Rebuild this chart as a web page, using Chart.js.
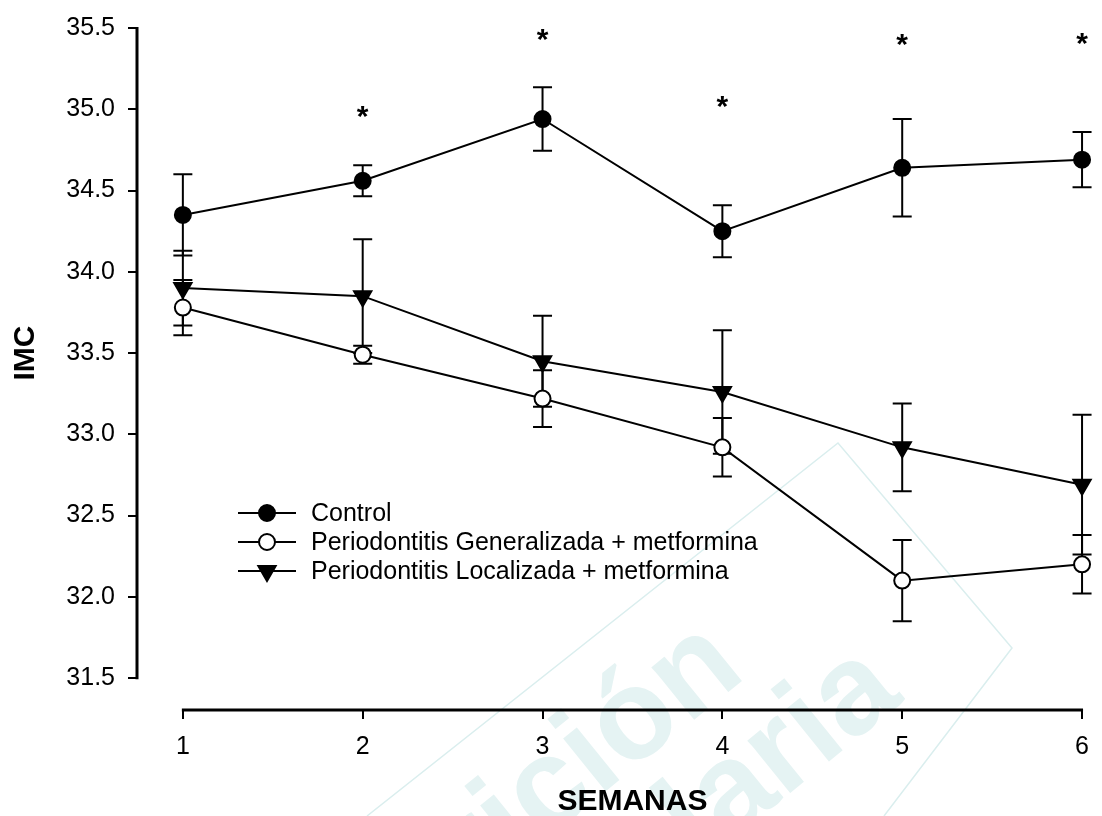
<!DOCTYPE html>
<html lang="es">
<head>
  <meta charset="UTF-8">
  <title>IMC por semanas</title>
  <script src="https://cdn.jsdelivr.net/npm/chart.js"></script>
  <style>
    body { margin: 0; background: white; }
    #wrap { width: 1102px; height: 816px; }
  </style>
</head>
<body>
  <div id="wrap"><canvas id="imcChart"></canvas></div>
  <script>
    // datos (media +/- error)
    const semanas = [1, 2, 3, 4, 5, 6];
    const yTicks = [31.5, 32.0, 32.5, 33.0, 33.5, 34.0, 34.5, 35.0, 35.5];

    const control = [34.35, 34.56, 34.94, 34.25, 34.64, 34.69];
    const controlErr = [0.25, 0.095, 0.195, 0.16, 0.30, 0.17];

    const generalizada = [33.78, 33.49, 33.22, 32.92, 32.10, 32.20];
    const generalizadaErr = [0.17, 0.055, 0.175, 0.18, 0.25, 0.18];

    const localizada = [33.90, 33.85, 33.45, 33.26, 32.92, 32.69];
    const localizadaErr = [0.23, 0.35, 0.28, 0.38, 0.27, 0.43];

    // posicion vertical de los asteriscos (significancia)
    const asteriscos = [null, 34.96, 35.43, 35.02, 35.40, 35.41];

    const FONT = '"Liberation Sans", Arial, sans-serif';
    Chart.defaults.color = '#000';
    Chart.defaults.font.family = FONT;

    function toPoints(arr) {
      return arr.map((v, i) => ({ x: semanas[i], y: v }));
    }

    function drawMarker(ctx, style, fill, x, y) {
      ctx.save();
      ctx.lineWidth = 2;
      ctx.strokeStyle = '#000';
      ctx.fillStyle = fill;
      ctx.beginPath();
      if (style === 'triangle') {
        const r = 10;
        ctx.moveTo(x, y + r);
        ctx.lineTo(x - r * 0.866, y - r * 0.5);
        ctx.lineTo(x + r * 0.866, y - r * 0.5);
        ctx.closePath();
      } else {
        ctx.arc(x, y, 8, 0, Math.PI * 2);
      }
      ctx.fill();
      ctx.stroke();
      ctx.restore();
    }

    const extras = {
      id: 'extras',
      beforeDraw(chart) {
        // marca de agua tenue de la revista
        const ctx = chart.ctx;
        ctx.save();
        ctx.fillStyle = 'rgb(229, 243, 243)';
        ctx.strokeStyle = 'rgb(218, 238, 238)';
        ctx.lineWidth = 1.5;
        ctx.beginPath();
        ctx.moveTo(367, 816);
        ctx.lineTo(838, 443);
        ctx.lineTo(1012, 648);
        ctx.lineTo(884, 816);
        ctx.stroke();
        ctx.font = 'bold 128px ' + FONT;
        ctx.textAlign = 'right';
        ctx.textBaseline = 'alphabetic';
        ctx.save();
        ctx.translate(748, 676);
        ctx.rotate(-0.68);
        ctx.fillText('Nutrición', 0, 0);
        ctx.restore();
        ctx.save();
        ctx.translate(905, 700);
        ctx.rotate(-0.68);
        ctx.fillText('Hospitalaria', 0, 0);
        ctx.restore();
        ctx.restore();
      },
      beforeDatasetsDraw(chart) {
        const ctx = chart.ctx;
        const xs = chart.scales.x, ys = chart.scales.y;
        const series = [
          [control, controlErr],
          [generalizada, generalizadaErr],
          [localizada, localizadaErr]
        ];
        ctx.save();
        ctx.strokeStyle = '#000';
        ctx.lineWidth = 2;
        series.forEach(([vals, errs]) => {
          vals.forEach((v, i) => {
            const x = xs.getPixelForValue(semanas[i]);
            const top = ys.getPixelForValue(v + errs[i]);
            const bot = ys.getPixelForValue(v - errs[i]);
            ctx.beginPath();
            ctx.moveTo(x, top); ctx.lineTo(x, bot);
            ctx.moveTo(x - 9.5, top); ctx.lineTo(x + 9.5, top);
            ctx.moveTo(x - 9.5, bot); ctx.lineTo(x + 9.5, bot);
            ctx.stroke();
          });
        });
        ctx.restore();
      },
      afterDraw(chart) {
        const ctx = chart.ctx;
        const xs = chart.scales.x, ys = chart.scales.y;
        const area = chart.chartArea;
        ctx.save();

        // ejes separados, estilo SigmaPlot
        ctx.strokeStyle = '#000';
        ctx.lineWidth = 3;
        ctx.beginPath();
        ctx.moveTo(area.left, ys.getPixelForValue(yTicks[yTicks.length - 1]) - 1);
        ctx.lineTo(area.left, ys.getPixelForValue(yTicks[0]) + 1);
        ctx.moveTo(xs.getPixelForValue(semanas[0]) - 1, area.bottom);
        ctx.lineTo(xs.getPixelForValue(semanas[semanas.length - 1]) + 1, area.bottom);
        ctx.stroke();

        // asteriscos
        ctx.fillStyle = '#000';
        ctx.font = 'bold 30px ' + FONT;
        ctx.textAlign = 'center';
        ctx.textBaseline = 'alphabetic';
        asteriscos.forEach((v, i) => {
          if (v === null) return;
          ctx.fillText('*', xs.getPixelForValue(semanas[i]), ys.getPixelForValue(v) + 10);
        });

        // titulos de ejes
        ctx.font = 'bold 30px ' + FONT;
        ctx.textBaseline = 'middle';
        ctx.fillText('SEMANAS',
          (xs.getPixelForValue(semanas[0]) + xs.getPixelForValue(semanas[semanas.length - 1])) / 2, 802);
        ctx.save();
        ctx.translate(26, (ys.getPixelForValue(yTicks[0]) + ys.getPixelForValue(yTicks[yTicks.length - 1])) / 2);
        ctx.rotate(-Math.PI / 2);
        ctx.fillText('IMC', 0, 0);
        ctx.restore();

        // leyenda
        ctx.font = '25px ' + FONT;
        ctx.textAlign = 'left';
        chart.data.datasets.forEach((ds, i) => {
          const y = 513 + i * 29;
          ctx.lineWidth = 2;
          ctx.beginPath();
          ctx.moveTo(238, y); ctx.lineTo(296, y);
          ctx.stroke();
          drawMarker(ctx, ds.pointStyle, ds.pointBackgroundColor, 267, y);
          ctx.fillStyle = '#000';
          ctx.fillText(ds.label, 311, y + 1);
        });
        ctx.restore();
      }
    };

    const baseDataset = {
      borderColor: '#000',
      borderWidth: 2,
      pointBorderColor: '#000',
      pointBorderWidth: 2,
      tension: 0,
      clip: false
    };

    new Chart(document.getElementById('imcChart'), {
      type: 'line',
      data: {
        datasets: [
          Object.assign({}, baseDataset, {
            label: 'Control', data: toPoints(control),
            pointStyle: 'circle', pointRadius: 8, pointBackgroundColor: '#000'
          }),
          Object.assign({}, baseDataset, {
            label: 'Periodontitis Generalizada + metformina', data: toPoints(generalizada),
            pointStyle: 'circle', pointRadius: 8, pointBackgroundColor: '#fff'
          }),
          Object.assign({}, baseDataset, {
            label: 'Periodontitis Localizada + metformina', data: toPoints(localizada),
            pointStyle: 'triangle', pointRotation: 180, pointRadius: 10, pointBackgroundColor: '#000'
          })
        ]
      },
      options: {
        responsive: true,
        maintainAspectRatio: false,
        animation: false,
        layout: { padding: { top: 23, right: 10, left: 0, bottom: 0 } },
        plugins: { legend: { display: false }, tooltip: { enabled: false } },
        scales: {
          x: {
            type: 'linear',
            min: 0.745,
            max: 6,
            afterFit(scale) { scale.height = 106; },
            afterBuildTicks(scale) { scale.ticks = semanas.map(v => ({ value: v })); },
            border: { display: false },
            grid: { drawOnChartArea: false, drawTicks: true, tickLength: 9, lineWidth: 2, color: '#000' },
            ticks: { font: { size: 25 }, padding: 13, callback: v => String(v) }
          },
          y: {
            type: 'linear',
            min: 31.304,
            max: 35.5,
            afterFit(scale) { scale.width = 137; },
            afterBuildTicks(scale) { scale.ticks = yTicks.map(v => ({ value: v })); },
            border: { display: false },
            grid: { drawOnChartArea: false, drawTicks: true, tickLength: 9, lineWidth: 2, color: '#000' },
            ticks: { font: { size: 25 }, padding: 13, callback: v => v.toFixed(1) }
          }
        }
      },
      plugins: [extras]
    });
  </script>
</body>
</html>
